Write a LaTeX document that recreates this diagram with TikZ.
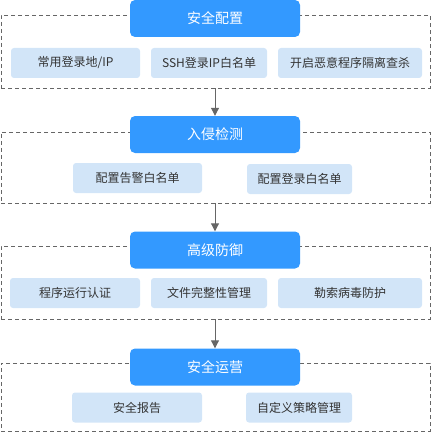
\documentclass[tikz,border=0pt]{standalone}
\usepackage{fontspec}
\setmainfont{Noto Sans CJK SC}
\usetikzlibrary{arrows.meta}
\definecolor{hblue}{HTML}{3399FF}
\definecolor{lblue}{HTML}{D2E5F8}
\definecolor{dgray}{HTML}{666666}
\definecolor{tgray}{HTML}{333333}
\tikzset{
  frame/.style={draw=dgray, line width=0.9pt, dash pattern=on 4pt off 3pt, inner sep=0pt},
  headbox/.style={fill=hblue, rounded corners=5pt, text=white, inner sep=0pt,
    minimum width=170pt, minimum height=37pt, font=\fontsize{14}{16}\selectfont},
  itembox/.style={fill=lblue, rounded corners=3pt, text=tgray, inner sep=0pt,
    minimum height=30pt, font=\fontsize{12}{14}\selectfont},
  arr/.style={draw=dgray, line width=1pt, -{Triangle[length=8pt,width=8pt]}}
}
\begin{document}
\begin{tikzpicture}[x=1pt,y=-1pt]
\useasboundingbox (0,0) rectangle (432,433);
% frames
\node[frame, minimum width=429pt, minimum height=73pt] (f1) at (215.5,51.5) {};
\node[frame, minimum width=429pt, minimum height=71pt] (f2) at (215.5,167.5) {};
\node[frame, minimum width=429pt, minimum height=73pt] (f3) at (215.5,282.5) {};
\node[frame, minimum width=429pt, minimum height=68pt] (f4) at (215.5,397) {};
% heads
\node[headbox] (b1) at (215,18.5) {安全配置};
\node[headbox] (b2) at (215,134.5) {入侵检测};
\node[headbox] (b3) at (215,250) {高级防御};
\node[headbox] (b4) at (215,367) {安全运营};
% items 1
\node[itembox, minimum width=129pt] (i11) at (75.5,63) {常用登录地/IP};
\node[itembox, minimum width=116pt] (i12) at (209,63) {SSH登录IP白名单};
\node[itembox, minimum width=144pt] (i13) at (350,63) {开启恶意程序隔离查杀};
% items 2
\node[itembox, minimum width=129pt] (i21) at (137.5,178) {配置告警白名单};
\node[itembox, minimum width=105pt] (i22) at (299.5,179) {配置登录白名单};
% items 3
\node[itembox, minimum width=130pt] (i31) at (75,293) {程序运行认证};
\node[itembox, minimum width=116pt] (i32) at (209,293) {文件完整性管理};
\node[itembox, minimum width=144pt] (i33) at (350,293) {勒索病毒防护};
% items 4
\node[itembox, minimum width=130pt] (i41) at (137,407.5) {安全报告};
\node[itembox, minimum width=106pt] (i42) at (299,407.5) {自定义策略管理};
% arrows
\draw[arr] (f1.south -| b2.north) -- (b2.north);
\draw[arr] (f2.south -| b3.north) -- (b3.north);
\draw[arr] (f3.south -| b4.north) -- (b4.north);
\end{tikzpicture}
\end{document}
